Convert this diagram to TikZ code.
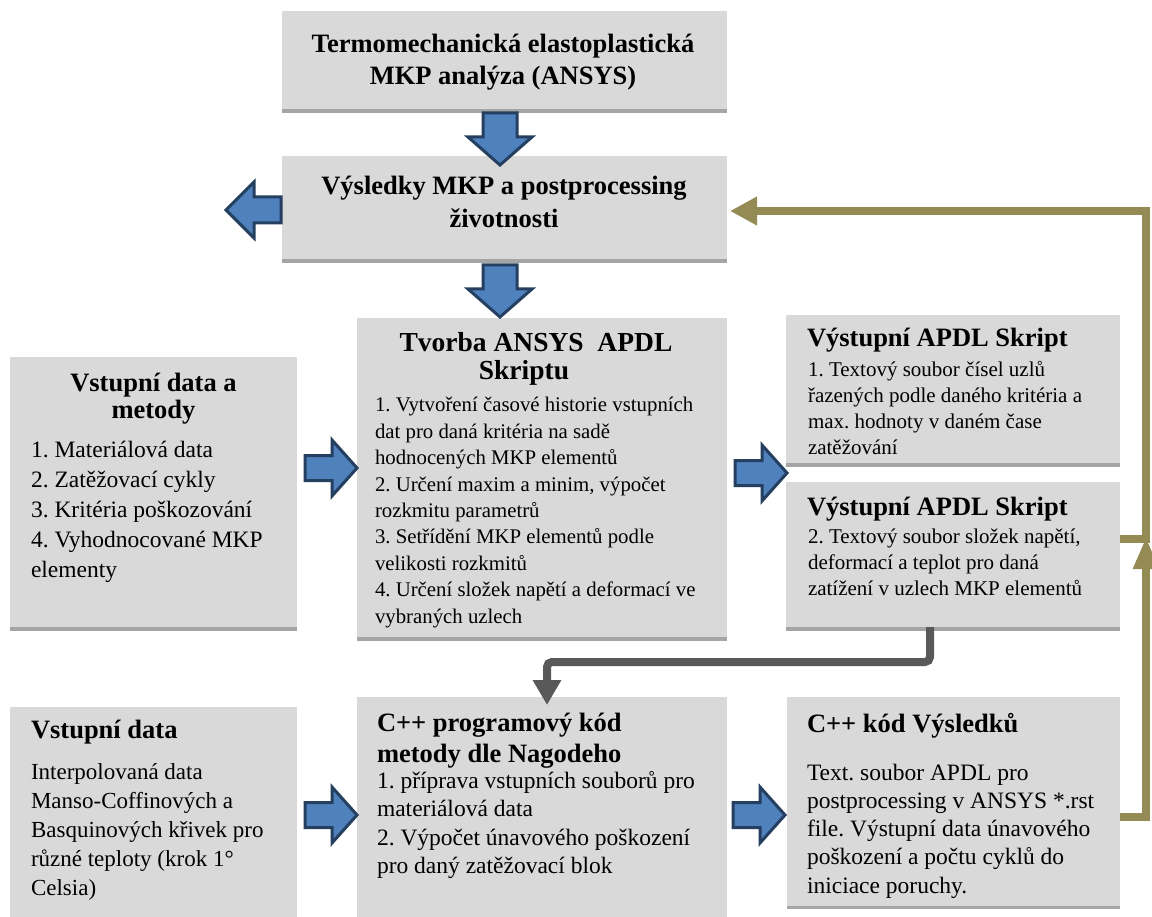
\documentclass[tikz,border=0pt]{standalone}
\usepackage{fontspec}
\setmainfont{Liberation Serif}
\usetikzlibrary{calc,arrows.meta}
\definecolor{boxgray}{HTML}{D9D9D9}
\definecolor{bordergray}{HTML}{A5A5A5}
\definecolor{arrowfill}{HTML}{4F81BD}
\definecolor{arrowline}{HTML}{243F60}
\definecolor{conngray}{HTML}{595959}
\definecolor{connolive}{HTML}{948A54}
\frenchspacing
\newcommand\setfs[2]{\fontsize{#1}{#2}\selectfont}
\newcommand\blockR[1]{\draw[blk] (#1) ++(0,-12.5) -- ++(27,0) -- ++(0,-15.5) -- ++(25,28) -- ++(-25,28) -- ++(0,-15.5) -- ++(-27,0) -- cycle;}
\newcommand\blockL[1]{\draw[blk] (#1) ++(0,-13) -- ++(-27,0) -- ++(0,-15) -- ++(-28,28) -- ++(28,28) -- ++(0,-15) -- ++(27,0) -- cycle;}
\newcommand\blockD[1]{\draw[blk] (#1) ++(-17,0) -- ++(0,24) -- ++(-15,0) -- ++(32,28) -- ++(32,-28) -- ++(-15,0) -- ++(0,-24) -- cycle;}
\begin{document}
\begin{tikzpicture}[x=1pt,y=-1pt,
  box/.style={fill=boxgray, draw=none, inner sep=0pt, outer sep=0pt},
  boxshade/.style={draw=bordergray, line width=4pt},
  blk/.style={fill=arrowfill, draw=arrowline, line width=3pt, line join=miter},
  grayconn/.style={draw=conngray, line width=8pt, rounded corners=5pt, -{Triangle[length=25pt,width=27pt]}},
  oliveconn/.style={draw=connolive, line width=8pt, line join=miter},
  ttl/.style={inner sep=0pt, outer sep=0pt, align=left, anchor=north west},
  ttlc/.style={inner sep=0pt, outer sep=0pt, align=center, anchor=north},
  body/.style={inner sep=0pt, outer sep=0pt, align=left, anchor=north west}
]
\useasboundingbox (0,0) rectangle (1152,917);
\fill[white] (0,0) rectangle (1152,917);

% boxes
\node[box, minimum width=445pt, minimum height=98pt]  (b1) at (504.5,60) {};
\node[box, minimum width=445pt, minimum height=103pt] (b2) at (504.5,207.5) {};
\node[box, minimum width=370pt, minimum height=319pt] (b3) at (542,477.5) {};
\node[box, minimum width=287pt, minimum height=270pt] (b4) at (153.5,492) {};
\node[box, minimum width=334pt, minimum height=148pt] (b5) at (953,389) {};
\node[box, minimum width=334pt, minimum height=145pt] (b6) at (953,554.5) {};
\node[box, minimum width=287pt, minimum height=210pt] (b7) at (153.5,812) {};
\node[box, minimum width=370pt, minimum height=220pt] (b8) at (542,807) {};
\node[box, minimum width=333pt, minimum height=209pt] (b9) at (953.5,801.5) {};

% bottom shading lines
\foreach \b in {b1,b2,b3,b4,b5,b6}
  \draw[boxshade] ($(\b.south west)+(0,2)$) -- ($(\b.south east)+(0,2)$);
\draw[draw=bordergray, line width=3pt] ($(b9.south west)+(0,1.5)$) -- ($(b9.south east)+(0,1.5)$);

% blue block arrows
\coordinate (a1) at ($(b1.south)+(-4.5,4)$);
\coordinate (a2) at ($(b2.south)+(-4.5,6)$);
\coordinate (al) at ($(b2.west)+(-1,2.5)$);
\coordinate (r1) at ($(b4.north east)+(8,111)$);
\coordinate (r2) at ($(b3.north east)+(8,155)$);
\coordinate (r3) at ($(b7.north east)+(8,108)$);
\coordinate (r4) at ($(b8.north east)+(6,118)$);
\blockD{a1}
\blockD{a2}
\blockL{al}
\blockR{r1}
\blockR{r2}
\blockR{r3}
\blockR{r4}

% connectors
\draw[grayconn] ($(b6.south west)+(144,0)$) -- ++(0,35) -| ($(b8.north west)+(190,8)$);
\draw[oliveconn, -{Triangle[length=27pt,width=27pt]}] ($(b6.north east)+(0,57)$) -- ++(26,0) |- ($(b2.east)+(3,3.5)$);
\draw[oliveconn, -{Triangle[length=32pt,width=24pt]}] ($(b9.north east)+(0,120)$) -- ++(26,0) -- ++(0,-280);

% texts
\node[ttlc, font=\bfseries\setfs{26.5}{32}] (t1) at (503,30.6)
  {\strut Termomechanická elastoplastická\\MKP analýza (ANSYS)};
\node[ttlc, font=\bfseries\setfs{26.5}{33}] (t2) at (504,171.9)
  {\strut Výsledky MKP a postprocessing\\životnosti};
\node[ttlc, font=\bfseries\setfs{27.5}{27.5}] (t3) at (536,332.5)
  {\strut Tvorba ANSYS\ \ APDL\\Skriptu\rule{24pt}{0pt}};
\node[body, font=\setfs{20.8}{26.4}] (d3) at (375,393.5)
  {\strut 1. Vytvoření časové historie vstupních\\dat pro daná kritéria na sadě\\hodnocených MKP elementů\\2. Určení maxim a minim, výpočet\\rozkmitu parametrů\\3. Setřídění MKP elementů podle\\velikosti rozkmitů\\4. Určení složek napětí a deformací ve\\vybraných uzlech};
\node[ttlc, font=\bfseries\setfs{26.5}{27}] (t4) at (153.5,372.1)
  {\strut Vstupní data a\\metody};
\node[body, font=\setfs{23.5}{30}] (d4) at (31,436)
  {\strut 1. Materiálová data\\2. Zatěžovací cykly\\3. Kritéria poškozování\\4. Vyhodnocované MKP\\elementy};
\node[ttl, font=\bfseries\setfs{26.5}{28}] (t5) at (807,327.4)
  {\strut Výstupní APDL Skript};
\node[body, font=\setfs{21}{26}] (d5) at (808,357.8)
  {\strut 1. Textový soubor čísel uzlů\\řazených podle daného kritéria a\\max. hodnoty v daném čase\\zatěžování};
\node[ttl, font=\bfseries\setfs{26.5}{28}] (t6) at (807,495.4)
  {\strut Výstupní APDL Skript};
\node[body, font=\setfs{21}{26}] (d6) at (808,524.8)
  {\strut 2. Textový soubor složek napětí,\\deformací a teplot pro daná\\zatížení v uzlech MKP elementů};
\node[ttl, font=\bfseries\setfs{26.5}{28}] (t7) at (31,718.4)
  {\strut Vstupní data};
\node[body, font=\setfs{23}{28.8}] (d7) at (31,759.8)
  {\strut Interpolovaná data\\Manso-Coffinových a\\Basquinových křivek pro\\různé teploty (krok 1°\\Celsia)};
\node[ttl, font=\bfseries\setfs{26.5}{31}] (t8) at (377,709.3)
  {\strut C++ programový kód\\metody dle Nagodeho};
\node[body, font=\setfs{23.5}{28.5}] (d8) at (377,768.05)
  {\strut 1. příprava vstupních souborů pro\\materiálová data\\2. Výpočet únavového poškození\\pro daný zatěžovací blok};
\node[ttl, font=\bfseries\setfs{26.5}{28}] (t9) at (807,712.4)
  {\strut C++ kód Výsledků};
\node[body, font=\setfs{23.5}{28.3}] (d9) at (807,760.2)
  {\strut Text. soubor APDL pro\\postprocessing v ANSYS *.rst\\file. Výstupní data únavového\\poškození a počtu cyklů do\\iniciace poruchy.};
\end{tikzpicture}
\end{document}
